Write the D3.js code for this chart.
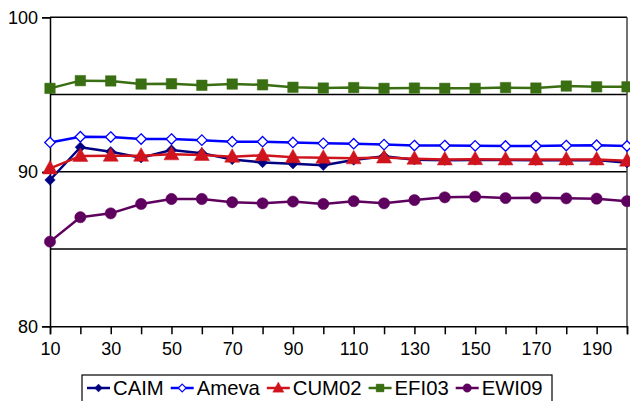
<!DOCTYPE html>
<html>
<head>
<meta charset="utf-8">
<script src="https://cdn.jsdelivr.net/npm/d3@7"></script>
<style>
  html, body { margin: 0; padding: 0; background: #fff; }
  svg { display: block; font-family: "Liberation Sans", Arial, sans-serif; }
</style>
</head>
<body>
<svg id="chart" width="630" height="401"></svg>
<script>
const categories = [10, 20, 30, 40, 50, 60, 70, 80, 90, 100, 110, 120, 130, 140, 150, 160, 170, 180, 190, 200];
const xTickLabels = [10, 30, 50, 70, 90, 110, 130, 150, 170, 190];
const yTickLabels = [80, 90, 100];
const yGridLines = [85, 90, 95, 100];

const CAIM  = [89.47, 91.59, 91.3, 90.91, 91.41, 91.2, 90.8, 90.6, 90.52, 90.42, 90.76, 91.0, 90.78, 90.75, 90.77, 90.76, 90.75, 90.75, 90.76, 90.59];
const Ameva = [91.9, 92.27, 92.25, 92.12, 92.12, 92.05, 91.95, 91.95, 91.9, 91.84, 91.82, 91.76, 91.7, 91.7, 91.68, 91.67, 91.67, 91.7, 91.72, 91.67];
const CUM02 = [90.22, 91.02, 91.04, 91.04, 91.13, 91.09, 90.98, 91.07, 90.94, 90.91, 90.87, 90.92, 90.84, 90.8, 90.82, 90.8, 90.8, 90.8, 90.8, 90.72];
const EFI03 = [95.4, 95.9, 95.88, 95.68, 95.7, 95.6, 95.68, 95.63, 95.47, 95.42, 95.45, 95.4, 95.42, 95.4, 95.4, 95.45, 95.42, 95.55, 95.5, 95.5];
const EWI09 = [85.48, 87.06, 87.31, 87.92, 88.24, 88.24, 88.03, 87.96, 88.07, 87.92, 88.1, 87.96, 88.17, 88.35, 88.39, 88.3, 88.32, 88.28, 88.26, 88.1];

const seriesNames = ["CAIM", "Ameva", "CUM02", "EFI03", "EWI09"];
const seriesValues = [CAIM, Ameva, CUM02, EFI03, EWI09];
const seriesColors = ["#000080", "#0000ff", "#d0141e", "#3a6e12", "#5e005e"];
const seriesMarkers = ["diamond", "diamondOpen", "triangle", "square", "circle"];

const svg = d3.select("#chart");
const plotLeft = 50, plotRight = 627, plotTop = 17.3, plotBottom = 326.3;

const x = d3.scaleLinear().domain([10, 200]).range([plotLeft, plotRight]);
const y = d3.scaleLinear().domain([80, 100]).range([plotBottom, plotTop]);

// gridlines
svg.append("g").selectAll("line").data(yGridLines).join("line")
  .attr("x1", plotLeft).attr("x2", plotRight)
  .attr("y1", d => y(d)).attr("y2", d => y(d))
  .attr("stroke", "#000").attr("stroke-width", 1.5);

// right border
svg.append("line").attr("x1", plotRight).attr("x2", plotRight)
  .attr("y1", y(100)).attr("y2", y(80))
  .attr("stroke", "#444").attr("stroke-width", 1.5);

// y axis
const yAxis = d3.axisLeft(y).tickValues(yTickLabels).tickSize(8).tickPadding(4).tickFormat(d3.format("d"));
const gy = svg.append("g").attr("transform", `translate(${plotLeft},0)`).call(yAxis);
gy.select(".domain").attr("stroke", "#000").attr("stroke-width", 1.5);
gy.selectAll(".tick line").attr("stroke", "#000").attr("stroke-width", 1.5);
gy.selectAll(".tick text").attr("font-size", 18).attr("fill", "#000")
  .attr("font-family", "'Liberation Sans', Arial, sans-serif");

// x axis
const xAxis = d3.axisBottom(x).tickValues(categories).tickSize(8).tickPadding(8)
  .tickFormat(d => xTickLabels.includes(d) ? d : "");
const gx = svg.append("g").attr("transform", `translate(0,${plotBottom})`).call(xAxis);
gx.select(".domain").attr("stroke", "#000").attr("stroke-width", 1.5);
gx.selectAll(".tick line").attr("stroke", "#000").attr("stroke-width", 1.5);
gx.selectAll(".tick text").attr("font-size", 18).attr("fill", "#000")
  .attr("font-family", "'Liberation Sans', Arial, sans-serif");

function markerPath(type) {
  switch (type) {
    case "diamond": return d3.symbol().type(d3.symbolDiamond2).size(70)();
    case "diamondOpen": return d3.symbol().type(d3.symbolDiamond2).size(70)();
    case "triangle": return "M0,-8L7.5,5.5L-7.5,5.5Z";
    case "square": return d3.symbol().type(d3.symbolSquare).size(110)();
    case "circle": return d3.symbol().type(d3.symbolCircle).size(100)();
  }
}

const line = d3.line().x((d, i) => x(categories[i])).y(d => y(d));

seriesValues.forEach((vals, si) => {
  const g = svg.append("g");
  const col = seriesColors[si];
  g.append("path").attr("d", line(vals)).attr("fill", "none")
    .attr("stroke", col).attr("stroke-width", 2.5).attr("stroke-linejoin", "round");
  const open = seriesMarkers[si] === "diamondOpen";
  g.selectAll("path.m").data(vals).join("path").attr("class", "m")
    .attr("d", markerPath(seriesMarkers[si]))
    .attr("transform", (d, i) => `translate(${x(categories[i])},${y(d)})`)
    .attr("fill", open ? "#fff" : col)
    .attr("stroke", col).attr("stroke-width", open ? 1.3 : 0.5);
});

// legend
const lg = svg.append("g");
lg.append("rect").attr("x", 82).attr("y", 375).attr("width", 470).attr("height", 30)
  .attr("fill", "#fff").attr("stroke", "#000").attr("stroke-width", 1.2);
let cx = 87;
seriesNames.forEach((name, si) => {
  const col = seriesColors[si];
  const item = lg.append("g").attr("transform", `translate(${cx},388)`);
  item.append("line").attr("x1", 0).attr("x2", 23).attr("y1", 0).attr("y2", 0)
    .attr("stroke", col).attr("stroke-width", 2.5);
  const open = seriesMarkers[si] === "diamondOpen";
  item.append("path").attr("d", markerPath(seriesMarkers[si]))
    .attr("transform", `translate(11.5,0) scale(0.75)`)
    .attr("fill", open ? "#fff" : col).attr("stroke", col).attr("stroke-width", open ? 1.5 : 0.5);
  const t = item.append("text").attr("x", 26).attr("y", 7).attr("font-size", 20.3)
    .attr("fill", "#000").text(name);
  const w = t.node().getComputedTextLength();
  cx += 26 + w + 7;
});
</script>
</body>
</html>
